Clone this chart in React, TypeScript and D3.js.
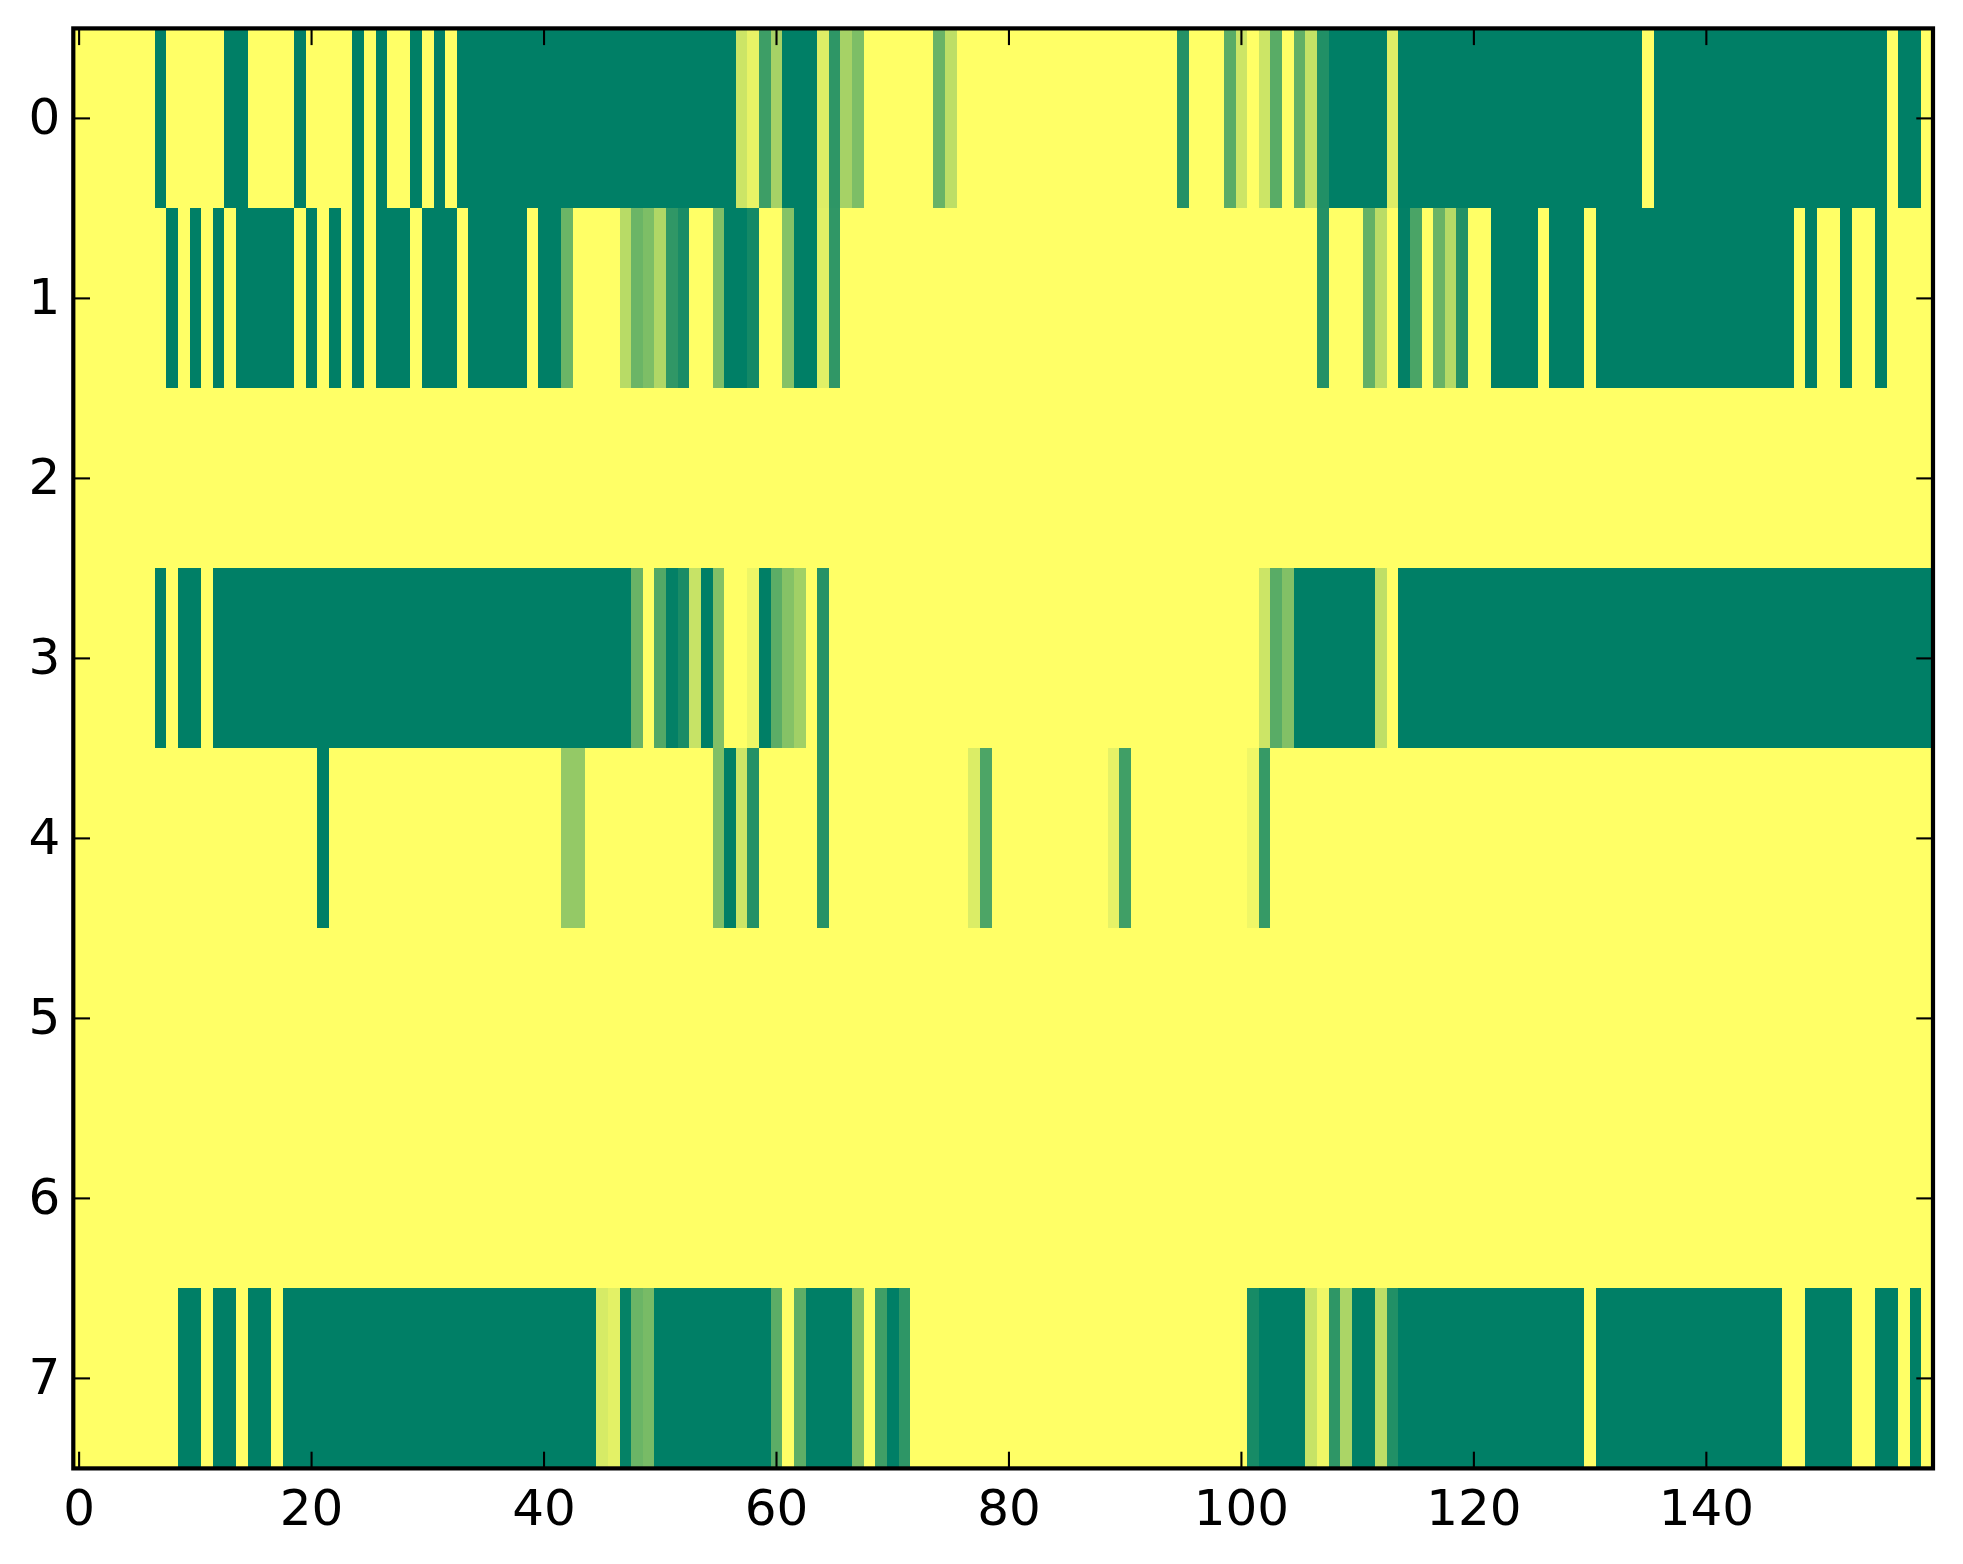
import * as d3 from 'd3';
import { useEffect, useRef } from 'react';

// each run is [first column, last column, value]; columns not listed are 0
type Run = [number, number, number];

const row0: Run[] = [
  [7, 7, 1], [13, 14, 1], [19, 19, 1], [24, 24, 1], [26, 26, 1], [29, 29, 1], [31, 31, 1], [33, 56, 1],
  [57, 57, 0.2], [58, 58, 0.09], [59, 59, 0.76], [60, 60, 0.35], [61, 63, 1], [64, 64, 0.13], [65, 65, 0.82],
  [66, 66, 0.35], [67, 67, 0.51], [74, 74, 0.59], [75, 75, 0.26], [95, 95, 0.86], [99, 99, 0.65], [100, 100, 0.2],
  [102, 102, 0.2], [103, 103, 0.65], [105, 105, 0.62], [106, 106, 0.23], [107, 107, 0.87], [108, 112, 1],
  [113, 113, 0.13], [114, 134, 1], [136, 155, 1], [157, 158, 1],
];
const row1: Run[] = [
  [8, 8, 1], [10, 10, 1], [12, 12, 1], [14, 18, 1], [20, 20, 1], [22, 22, 1], [24, 24, 1], [26, 28, 1], [30, 32, 1],
  [34, 38, 1], [40, 41, 1], [42, 42, 0.58], [47, 47, 0.28], [48, 48, 0.58], [49, 49, 0.51], [50, 50, 0.31],
  [51, 51, 0.81], [52, 52, 0.9], [55, 55, 0.5], [56, 57, 1], [58, 58, 0.92], [61, 61, 0.48], [62, 63, 1],
  [64, 64, 0.12], [65, 65, 0.81], [107, 107, 0.86], [111, 111, 0.61], [112, 112, 0.27], [114, 114, 0.99],
  [115, 115, 0.71], [117, 117, 0.59], [118, 118, 0.29], [119, 119, 0.86], [122, 125, 1], [127, 129, 1],
  [131, 147, 1], [149, 149, 1], [152, 152, 1], [155, 155, 1],
];
const row2: Run[] = [];
const row3: Run[] = [
  [7, 7, 1], [9, 10, 1], [12, 47, 1], [48, 48, 0.59], [50, 50, 0.68], [51, 51, 0.99], [52, 52, 0.9], [53, 53, 0.22],
  [54, 54, 1], [55, 55, 0.49], [58, 58, 0.07], [59, 59, 1], [60, 60, 0.64], [61, 61, 0.48], [62, 62, 0.37],
  [64, 64, 0.85], [102, 102, 0.2], [103, 103, 0.65], [104, 104, 0.49], [105, 111, 1], [112, 112, 0.25], [114, 159, 1],
];
const row4: Run[] = [
  [21, 21, 1], [42, 43, 0.42], [55, 55, 0.5], [56, 56, 1], [57, 57, 0.2], [58, 58, 0.86], [64, 64, 0.85],
  [77, 77, 0.14], [78, 78, 0.7], [89, 89, 0.1], [90, 90, 0.75], [101, 101, 0.06], [102, 102, 0.79],
];
const row5: Run[] = [];
const row6: Run[] = [];
const row7: Run[] = [
  [9, 10, 1], [12, 13, 1], [15, 16, 1], [18, 44, 1], [45, 45, 0.16], [46, 46, 0.11], [47, 47, 0.98], [48, 48, 0.58],
  [49, 49, 0.53], [50, 59, 1], [60, 60, 0.64], [62, 62, 0.63], [63, 66, 1], [67, 67, 0.52], [69, 69, 0.75],
  [70, 70, 1], [71, 71, 0.82], [101, 101, 0.91], [102, 105, 1], [106, 106, 0.22], [107, 107, 0.06], [108, 108, 0.82],
  [109, 109, 0.33], [110, 111, 1], [112, 112, 0.26], [113, 113, 0.87], [114, 129, 1], [131, 146, 1], [149, 152, 1],
  [155, 156, 1], [158, 158, 1],
];

const rows = [row0, row1, row2, row3, row4, row5, row6, row7];
const columnCount = 160;
const xTicks = [0, 20, 40, 60, 80, 100, 120, 140];
const yTicks = [0, 1, 2, 3, 4, 5, 6, 7];

const width = 1963;
const height = 1564;
const margin = { top: 28.4, right: 30, bottom: 95.6, left: 73.3 };

const App = () => {
  const ref = useRef<SVGSVGElement>(null);

  useEffect(() => {
    if (!ref.current) return;

    const svg = d3.select(ref.current);
    svg.selectAll('*').remove();

    const x = d3.scaleLinear()
      .domain([-0.5, columnCount - 0.5])
      .range([margin.left, width - margin.right]);

    const y = d3.scaleLinear()
      .domain([-0.5, rows.length - 0.5])
      .range([margin.top, height - margin.bottom]);

    // summer_r colormap
    const color = d3.scaleLinear<string>()
      .domain([0, 1])
      .range(['#ffff66', '#007f66']);

    // background is the zero value, runs go on top of it
    svg.append('rect')
      .attr('x', x(-0.5))
      .attr('y', y(-0.5))
      .attr('width', x(columnCount - 0.5) - x(-0.5))
      .attr('height', y(rows.length - 0.5) - y(-0.5))
      .attr('fill', color(0));

    rows.forEach((runs, rowIndex) => {
      svg.append('g')
        .attr('shape-rendering', 'crispEdges')
        .selectAll('rect')
        .data(runs)
        .join('rect')
        .attr('x', d => x(d[0] - 0.5))
        .attr('y', y(rowIndex - 0.5))
        .attr('width', d => x(d[1] + 0.5) - x(d[0] - 0.5))
        .attr('height', y(rowIndex + 0.5) - y(rowIndex - 0.5))
        .attr('fill', d => color(d[2]));
    });

    const tickLength = 16.7;
    const styleAxis = (g: any) => {
      g.select('.domain').remove();
      g.selectAll('line').attr('stroke', '#000').attr('stroke-width', 2.1);
      g.selectAll('text').attr('fill', '#000').attr('font-size', 50).attr('font-family', '"DejaVu Sans"');
      g.attr('font-family', null).attr('font-size', null);
    };

    svg.append('g')
      .attr('transform', `translate(0,${height - margin.bottom})`)
      .call(d3.axisBottom(x).tickValues(xTicks).tickSize(-tickLength).tickPadding(21).offset(0))
      .call(styleAxis);

    svg.append('g')
      .attr('transform', `translate(0,${margin.top})`)
      .call(d3.axisTop(x).tickValues(xTicks).tickSize(-tickLength).tickFormat(() => '').offset(0))
      .call(styleAxis);

    svg.append('g')
      .attr('transform', `translate(${margin.left},0)`)
      .call(d3.axisLeft(y).tickValues(yTicks).tickSize(-tickLength).tickPadding(13).offset(0))
      .call(styleAxis);

    svg.append('g')
      .attr('transform', `translate(${width - margin.right},0)`)
      .call(d3.axisRight(y).tickValues(yTicks).tickSize(-tickLength).tickFormat(() => '').offset(0))
      .call(styleAxis);

    // spines
    svg.append('rect')
      .attr('x', x(-0.5))
      .attr('y', y(-0.5))
      .attr('width', x(columnCount - 0.5) - x(-0.5))
      .attr('height', y(rows.length - 0.5) - y(-0.5))
      .attr('fill', 'none')
      .attr('stroke', '#000')
      .attr('stroke-width', 4.2);
  }, []);

  return (
    <svg
      ref={ref}
      width={width}
      height={height}
      style={{ position: 'absolute', left: 0, top: 0, background: '#fff', display: 'block' }}
    />
  );
};

export default App;
